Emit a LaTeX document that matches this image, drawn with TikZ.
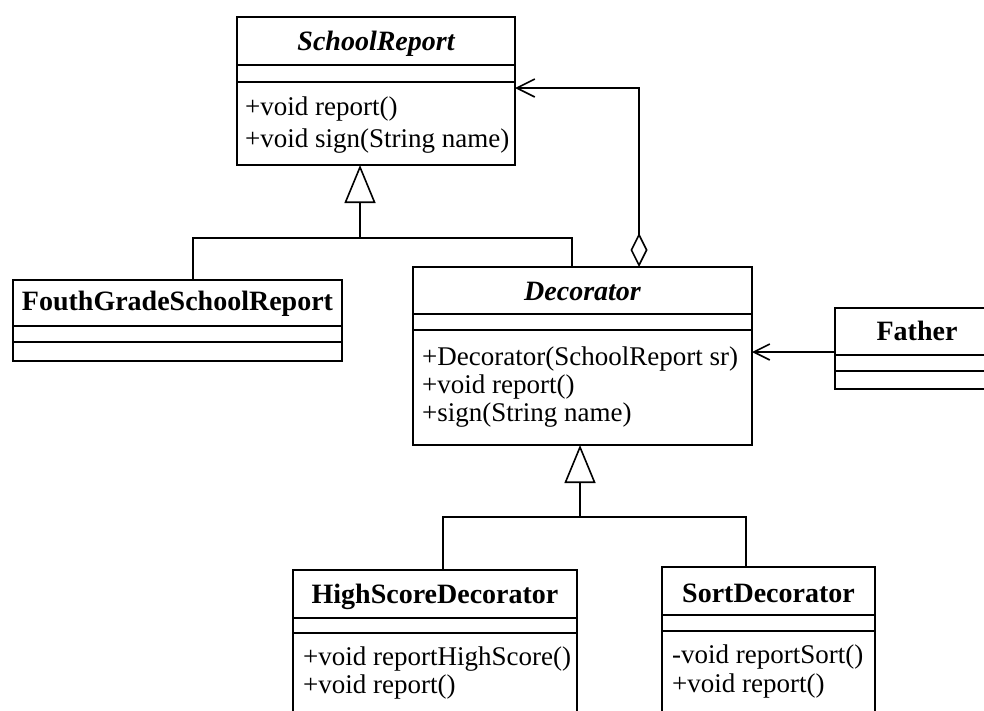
\documentclass[tikz,border=0pt]{standalone}
\usepackage{fontspec}
\setmainfont{Liberation Serif}
\usetikzlibrary{calc,arrows.meta}
\newcommand\cdiv[2]{\draw[line width=1.6pt] ($(#1.north west)+(0,#2)$) -- ($(#1.north east)+(0,#2)$);}
\tikzset{
 cls/.style={draw, line width=1.6pt, rectangle, anchor=north west, inner sep=0pt, outer sep=0pt},
 ttl/.style={font=\fontsize{28pt}{32pt}\selectfont\bfseries, anchor=base, inner sep=0pt},
 ttli/.style={font=\fontsize{28pt}{32pt}\selectfont\bfseries\itshape, anchor=base, inner sep=0pt},
 mth/.style={font=\fontsize{27pt}{32pt}\selectfont, anchor=base west, inner sep=0pt},
 conn/.style={line width=1.6pt},
 gen/.style={conn, -{Triangle[open, length=38pt, width=31pt, line width=1.6pt]}},
 agg/.style={conn, {Diamond[open, length=34pt, width=17pt, line width=1.6pt]}-{Straight Barb[length=18pt, width=18pt, line width=1.6pt]}},
 assoc/.style={conn, -{Straight Barb[length=16pt, width=16pt, line width=1.6pt]}}
}
\begin{document}
\begin{tikzpicture}[x=1pt,y=-1pt]
\useasboundingbox (0,0) rectangle (984,710);
\fill[white] (0,0) rectangle (984,710);
\clip (0,0) rectangle (984,710);

% SchoolReport
\node[cls, minimum width=278pt, minimum height=148pt] (sr) at (237,17) {};
\cdiv{sr}{48} \cdiv{sr}{65}
\node[ttli] (srT) at (376,50) {SchoolReport};
\node[mth] (srM1) at (245,115) {+void report()};
\node[mth] (srM2) at (245,147) {+void sign(String name)};

% FouthGradeSchoolReport
\node[cls, minimum width=329pt, minimum height=81pt] (fg) at (13,280) {};
\cdiv{fg}{46} \cdiv{fg}{62}
\node[ttl] (fgT) at (177.5,310) {FouthGradeSchoolReport};

% Decorator
\node[cls, minimum width=339pt, minimum height=178pt] (dec) at (413,267) {};
\cdiv{dec}{47} \cdiv{dec}{63}
\node[ttli] (decT) at (582.5,300) {Decorator};
\node[mth] (decM1) at (422,365) {+Decorator(SchoolReport sr)};
\node[mth] (decM2) at (422,393) {+void report()};
\node[mth] (decM3) at (422,421) {+sign(String name)};

% Father
\node[cls, minimum width=164pt, minimum height=81pt] (fa) at (835,308) {};
\cdiv{fa}{47} \cdiv{fa}{63}
\node[ttl] (faT) at (917,340) {Father};

% HighScoreDecorator
\node[cls, minimum width=284pt, minimum height=160pt] (hs) at (293,570) {};
\cdiv{hs}{48} \cdiv{hs}{63}
\node[ttl] (hsT) at (435,603) {HighScoreDecorator};
\node[mth] (hsM1) at (303,665) {+void reportHighScore()};
\node[mth] (hsM2) at (303,693) {+void report()};

% SortDecorator
\node[cls, minimum width=213pt, minimum height=163pt] (so) at (662,567) {};
\cdiv{so}{48} \cdiv{so}{64}
\node[ttl] (soT) at (768.5,602) {SortDecorator};
\node[mth] (soM1) at (672,663) {-void reportSort()};
\node[mth] (soM2) at (672,692) {+void report()};

% connectors
\coordinate (j1) at (360,238);
\draw[gen] (j1) -- (j1 |- sr.south);
\draw[conn] ($(fg.north west)+(180,0)$) |- (j1);
\draw[conn] ($(dec.north west)+(159,0)$) |- (j1);
\draw[agg] ($(dec.north west)+(226,0)$) |- ($(sr.east)+(0,-3)$);
\draw[assoc] ($(fa.west)+(0,3.5)$) -- ($(dec.east)+(0,-4)$);
\coordinate (j2) at (580,517);
\draw[gen] (j2) -- (j2 |- dec.south);
\draw[conn] ($(hs.north west)+(150,0)$) |- (j2);
\draw[conn] ($(so.north west)+(84,0)$) |- (j2);
\end{tikzpicture}
\end{document}
